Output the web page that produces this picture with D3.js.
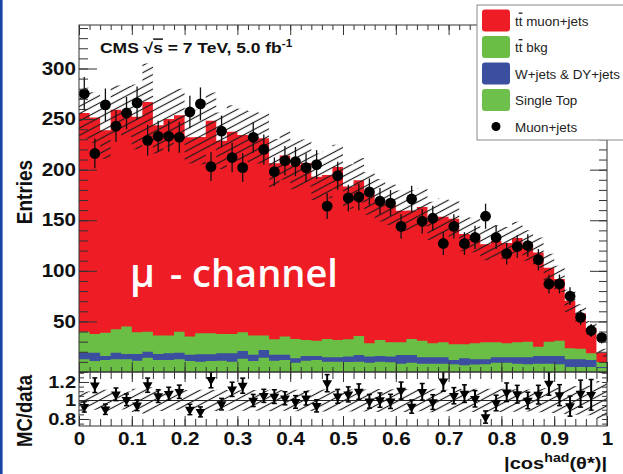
<!DOCTYPE html>
<html>
<head>
<meta charset="utf-8">
<script src="https://cdn.jsdelivr.net/npm/d3@7"></script>
<style>
  body { margin: 0; background: #fff; }
  svg text { font-family: "Liberation Sans", Arial, Helvetica, sans-serif; }
</style>
</head>
<body>
<svg id="chart" width="623" height="474"></svg>
<script>
// 50 bins of |cos^had(theta*)| from 0 to 1
const nBins = 50;

const dataCounts = [275, 216, 264, 243, 256, 266, 229, 233, 233, 232,
  257, 265, 203, 238, 212, 202, 232, 220, 198, 209,
  208, 202, 205, 164, 194, 172, 173, 178, 169, 167,
  144, 171, 149, 152, 127, 144, 127, 133, 154, 133,
  117, 124, 125, 111, 87, 87, 75, 54, 41, 34];

const ttSignal = [216, 214, 200, 217, 213, 213, 227, 208, 214, 214,
  197, 194, 210, 191, 200, 195, 196, 195, 174, 179,
  172, 175, 162, 162, 171, 151, 154, 148, 138, 136,
  130, 127, 132, 121, 124, 124, 109, 107, 97, 100,
  99, 103, 95, 93, 73, 61, 47, 35, 25, 9];

const ttBkg = [20.8, 18.5, 23.1, 23.1, 27.1, 21.5, 19.8, 18.2, 17.5, 20.8,
  18, 20.8, 20.8, 19.1, 19.1, 18.5, 19, 14.2, 15.3, 18,
  19.2, 15.9, 15.2, 18.2, 17.2, 17.1, 18.8, 13.2, 15.9, 14.2,
  12.6, 15.9, 16.5, 13.9, 14.9, 15.5, 13.9, 15.9, 16.9, 14.9,
  13.9, 14.9, 15.5, 9.2, 14.2, 15.2, 10.9, 10.5, 6.6, 5];

const wJets = [6.6, 8.2, 3.9, 6.6, 5.3, 6.6, 5.9, 5.9, 6.6, 6.6,
  6.1, 7.3, 6.6, 7.3, 8.3, 7.6, 6.1, 7.6, 5.8, 5.1,
  4.3, 4.6, 3.9, 4.3, 4.3, 5.2, 6.6, 6, 5.6, 5.6,
  8.6, 7.6, 6.3, 6.3, 6.3, 4.3, 6.9, 5.2, 4.9, 5.3,
  5.3, 6.3, 6.9, 7.6, 7.6, 8.2, 7.5, 7.5, 6.9, 1];

const singleTop = [12.5, 10.9, 11.9, 12.5, 12.5, 11.2, 14.2, 11.9, 11.9, 12.5,
  10.9, 10.2, 10.9, 11.2, 10.2, 13.2, 10.9, 14.2, 11.2, 11.9,
  9.2, 11.2, 11.9, 10.2, 10.2, 10, 10.2, 9.2, 10.2, 9.6,
  8.2, 9.2, 8.2, 8.2, 8.2, 7.6, 6.6, 7.3, 7.6, 9.2,
  9.2, 8.2, 7.6, 8.2, 8.2, 7.6, 5, 5, 5, 4];

// half width of the hatched MC uncertainty band
const mcUnc = [25, 25, 28, 24, 25, 32, 38, 28, 27, 26,
  26, 27, 28, 28, 26, 26, 26, 25, 24, 24,
  24, 23, 23, 23, 22, 22, 22, 21, 21, 20,
  20, 20, 19, 19, 18, 18, 17, 17, 16, 16,
  16, 16, 15, 15, 14, 13, 11, 9, 7, 4];

const xTicks = [0, 0.1, 0.2, 0.3, 0.4, 0.5, 0.6, 0.7, 0.8, 0.9, 1];
const xTickLabels = ['0', '0.1', '0.2', '0.3', '0.4', '0.5', '0.6', '0.7', '0.8', '0.9', '1'];
const yTicks = [50, 100, 150, 200, 250, 300];
const ratioTicks = [0.8, 1, 1.2];
const ratioTickLabels = ['0.8', '1', '1.2'];

const legendLabels = ['muon+jets', 'bkg', 'W+jets & DY+jets', 'Single Top', 'Muon+jets'];

const colors = {
  ttSignal: '#ee1c25',
  ttBkg: '#6abd45',
  wJets: '#3b4ea0',
  singleTop: '#6abd45'
};

// layout
const padL = 79, padR = 607, padTop = 25, padMid = 372, padBot = 426;
const stretch = 'scale(1.18,1)';
const binW = 1 / nBins;

const svg = d3.select('#chart');
svg.append('rect').attr('width', 623).attr('height', 474).attr('fill', '#fff');
svg.append('rect').attr('x', 0).attr('y', 0).attr('width', 2.6).attr('height', 474).attr('fill', '#1a43a6');

const defs = svg.append('defs');
const hatch = defs.append('pattern')
  .attr('id', 'hatch')
  .attr('patternUnits', 'userSpaceOnUse')
  .attr('width', 12)
  .attr('height', 6.4)
  .attr('patternTransform', 'rotate(-28)');
hatch.append('line')
  .attr('x1', 0).attr('x2', 12).attr('y1', 3.2).attr('y2', 3.2)
  .attr('stroke', '#1a1a1a').attr('stroke-width', 1.15);

defs.append('clipPath').attr('id', 'clipMain')
  .append('rect').attr('x', padL).attr('y', padTop).attr('width', padR - padL).attr('height', padMid - padTop);
defs.append('clipPath').attr('id', 'clipRatio')
  .append('rect').attr('x', padL).attr('y', padMid).attr('width', padR - padL).attr('height', padBot - padMid);

const x = d3.scaleLinear().domain([0, 1]).range([padL, padR]);
const y = d3.scaleLinear().domain([0, 343]).range([padMid, padTop]);
const yr = d3.scaleLinear().domain([0.724, 1.308]).range([padBot, padMid]);

// stacked MC
const keys = ['singleTop', 'wJets', 'ttBkg', 'ttSignal'];
const table = d3.range(nBins).map(i => ({
  bin: i,
  singleTop: singleTop[i],
  wJets: wJets[i],
  ttBkg: ttBkg[i],
  ttSignal: ttSignal[i]
}));
const series = d3.stack().keys(keys)(table);
const mcTotal = series[3].map(d => d[1]);

function steps(lo, hi) {
  const pts = d3.range(nBins).map(i => ({x: i * binW, lo: lo[i], hi: hi[i]}));
  pts.push({x: 1, lo: lo[nBins - 1], hi: hi[nBins - 1]});
  return pts;
}

const mainG = svg.append('g').attr('clip-path', 'url(#clipMain)');
const area = d3.area().curve(d3.curveStepAfter)
  .x(d => x(d.x)).y0(d => y(d.lo)).y1(d => y(d.hi));

// paint from the top layer down so the layers never show seams
for (let k = series.length - 1; k >= 0; k--) {
  const s = series[k];
  mainG.append('path')
    .datum(steps(s.map(() => 0), s.map(d => d[1])))
    .attr('fill', colors[s.key])
    .attr('d', area);
}

// hatched MC uncertainty
mainG.append('path')
  .datum(steps(mcTotal.map((v, i) => v - mcUnc[i]), mcTotal.map((v, i) => v + mcUnc[i])))
  .attr('fill', 'url(#hatch)')
  .attr('d', area);

// data points
const pts = mainG.append('g');
pts.selectAll('line')
  .data(dataCounts)
  .enter()
  .append('line')
  .attr('x1', (d, i) => x((i + 0.5) * binW))
  .attr('x2', (d, i) => x((i + 0.5) * binW))
  .attr('y1', d => y(d - Math.sqrt(d)))
  .attr('y2', d => y(d + Math.sqrt(d)))
  .attr('stroke', '#111')
  .attr('stroke-width', 1.3);
pts.selectAll('circle')
  .data(dataCounts)
  .enter()
  .append('circle')
  .attr('cx', (d, i) => x((i + 0.5) * binW))
  .attr('cy', d => y(d))
  .attr('r', 5.4)
  .attr('fill', '#000');

// mu - channel
svg.append('text').attr('x', 130).attr('y', 287).text('\u03bc')
  .attr('fill', '#fff').attr('font-size', 39).attr('font-weight', 600)
  .style('font-family', '"Open Sans", sans-serif');
svg.append('text').attr('x', 170).attr('y', 287).text('- channel')
  .attr('fill', '#fff').attr('font-size', 38).attr('font-weight', 600)
  .style('font-family', '"Open Sans", sans-serif');

// ratio pad
const ratioG = svg.append('g').attr('clip-path', 'url(#clipRatio)');
const ratioArea = d3.area().curve(d3.curveStepAfter)
  .x(d => x(d.x)).y0(d => yr(d.lo)).y1(d => yr(d.hi));
ratioG.append('path')
  .datum(steps(mcTotal.map((v, i) => 1 - mcUnc[i] / v), mcTotal.map((v, i) => 1 + mcUnc[i] / v)))
  .attr('fill', 'url(#hatch)')
  .attr('d', ratioArea);
ratioG.append('line')
  .attr('x1', padL).attr('x2', padR).attr('y1', yr(1)).attr('y2', yr(1))
  .attr('stroke', '#222').attr('stroke-width', 1.1);

const ratio = dataCounts.map((d, i) => ({
  i: i,
  r: mcTotal[i] / d,
  e: mcTotal[i] / d / Math.sqrt(d)
}));
const rp = ratioG.selectAll('g.rp')
  .data(ratio)
  .enter()
  .append('g')
  .attr('class', 'rp')
  .attr('transform', d => `translate(${x((d.i + 0.5) * binW)},0)`);
rp.append('line')
  .attr('y1', d => yr(d.r - d.e)).attr('y2', d => yr(d.r + d.e))
  .attr('stroke', '#000').attr('stroke-width', 2);
rp.append('line')
  .attr('x1', -2.5).attr('x2', 2.5)
  .attr('y1', d => yr(d.r + d.e)).attr('y2', d => yr(d.r + d.e))
  .attr('stroke', '#000').attr('stroke-width', 1.5);
rp.append('line')
  .attr('x1', -2.5).attr('x2', 2.5)
  .attr('y1', d => yr(d.r - d.e)).attr('y2', d => yr(d.r - d.e))
  .attr('stroke', '#000').attr('stroke-width', 1.5);
rp.append('path')
  .attr('d', d3.symbol(d3.symbolTriangle, 42))
  .attr('transform', d => `translate(0,${yr(d.r)}) rotate(180)`)
  .attr('fill', '#000');

// frames
svg.append('rect').attr('x', padL).attr('y', padTop).attr('width', padR - padL).attr('height', padMid - padTop)
  .attr('fill', 'none').attr('stroke', '#333').attr('stroke-width', 1);
svg.append('rect').attr('x', padL).attr('y', padMid).attr('width', padR - padL).attr('height', padBot - padMid)
  .attr('fill', 'none').attr('stroke', '#333').attr('stroke-width', 1);

// axes
function tidy(g) {
  g.select('.domain').remove();
  g.selectAll('.tick line').attr('stroke', '#333');
  g.attr('font-family', null).attr('font-size', null);
}
const xMinor = d3.range(0, nBins + 1).map(i => i * binW);
const yMinor = d3.range(0, 341, 10);
const rMinor = d3.range(15, 27).map(v => v / 20);

function addAxis(axis, tx, ty) {
  return svg.append('g').attr('transform', `translate(${tx},${ty})`).call(axis).call(tidy);
}

// main pad
addAxis(d3.axisLeft(y).tickValues(yMinor).tickSize(-9).tickFormat(''), padL, 0);
const yAx = addAxis(d3.axisLeft(y).tickValues(yTicks).tickSize(-18).tickPadding(2.5).tickFormat(d3.format('d')), padL, 0);
addAxis(d3.axisRight(y).tickValues(yMinor).tickSize(-8).tickFormat(''), padR, 0);
addAxis(d3.axisRight(y).tickValues(yTicks).tickSize(-17).tickFormat(''), padR, 0);
addAxis(d3.axisTop(x).tickValues(xMinor).tickSize(-5).tickFormat(''), 0, padTop);
addAxis(d3.axisTop(x).tickValues(xTicks).tickSize(-10).tickFormat(''), 0, padTop);
addAxis(d3.axisBottom(x).tickValues(xMinor).tickSize(-5).tickFormat(''), 0, padMid);
addAxis(d3.axisBottom(x).tickValues(xTicks).tickSize(-10).tickFormat(''), 0, padMid);

// ratio pad
addAxis(d3.axisTop(x).tickValues(xMinor).tickSize(-7).tickFormat(''), 0, padMid);
addAxis(d3.axisTop(x).tickValues(xTicks).tickSize(-10).tickFormat(''), 0, padMid);
addAxis(d3.axisBottom(x).tickValues(xMinor).tickSize(-7).tickFormat(''), 0, padBot);
const xAx = addAxis(d3.axisBottom(x).tickValues(xTicks).tickSize(-10).tickPadding(7)
  .tickFormat((d, i) => xTickLabels[i]), 0, padBot);
addAxis(d3.axisLeft(yr).tickValues(rMinor).tickSize(-5).tickFormat(''), padL, 0);
const rAx = addAxis(d3.axisLeft(yr).tickValues(ratioTicks).tickSize(-10).tickPadding(2.5)
  .tickFormat((d, i) => ratioTickLabels[i]), padL, 0);
addAxis(d3.axisRight(yr).tickValues(rMinor).tickSize(-5).tickFormat(''), padR, 0);

yAx.selectAll('text').attr('font-size', 17.5).attr('font-weight', 'bold').attr('fill', '#111').attr('transform', stretch);
xAx.selectAll('text').attr('font-size', 17.5).attr('font-weight', 'bold').attr('fill', '#111').attr('transform', stretch);
rAx.selectAll('text').attr('font-size', 17).attr('font-weight', 'bold').attr('fill', '#111').attr('transform', stretch);

// axis titles
svg.append('text')
  .attr('transform', `translate(32,192) ${stretch} rotate(-90)`)
  .attr('text-anchor', 'middle').attr('font-size', 19).attr('font-weight', 'bold').attr('fill', '#111')
  .text('Entries');
svg.append('text')
  .attr('transform', `translate(32,411) ${stretch} rotate(-90)`)
  .attr('text-anchor', 'middle').attr('font-size', 18.5).attr('font-weight', 'bold').attr('fill', '#111')
  .text('MC/data');
const xt = svg.append('text')
  .attr('transform', `translate(607,469) ${stretch}`)
  .attr('text-anchor', 'end').attr('font-size', 17).attr('font-weight', 'bold').attr('fill', '#111');
xt.append('tspan').text('|cos');
xt.append('tspan').attr('font-size', 12).attr('dy', -7).text('had');
xt.append('tspan').attr('dy', 7).text('(\u03b8*)|');

// CMS label
const cms = svg.append('text')
  .attr('transform', `translate(100,53) ${stretch}`)
  .attr('font-size', 14.8).attr('font-weight', 'bold').attr('fill', '#111');
cms.append('tspan').text('CMS \u221a');
cms.append('tspan').style('text-decoration', 'overline').text('s');
cms.append('tspan').text(' = 7 TeV, 5.0 fb');
cms.append('tspan').attr('font-size', 10).attr('dy', -6).text('-1');

// legend
const lg = svg.append('g');
lg.append('rect').attr('x', 477).attr('y', 5).attr('width', 160).attr('height', 135)
  .attr('fill', '#fff').attr('stroke', '#888').attr('stroke-width', 1);
const rowY = [20.5, 47, 73.5, 100, 126.5];
const swatchColors = [colors.ttSignal, colors.ttBkg, colors.wJets, '#6cc04b'];
swatchColors.forEach((c, i) => {
  lg.append('rect').attr('x', 482).attr('y', rowY[i] - 11).attr('width', 28).attr('height', 22)
    .attr('rx', 3).attr('fill', c);
});
lg.append('circle').attr('cx', 496).attr('cy', rowY[4]).attr('r', 4.5).attr('fill', '#000');
legendLabels.forEach((t, i) => {
  const tx = lg.append('text').attr('x', 515).attr('y', rowY[i] + 5)
    .attr('font-size', 13.4).attr('fill', '#222');
  if (i < 2) {
    tx.append('tspan').text('t');
    tx.append('tspan').style('text-decoration', 'overline').text('t');
    tx.append('tspan').text(' ' + t);
  } else {
    tx.text(t);
  }
});
</script>
</body>
</html>
